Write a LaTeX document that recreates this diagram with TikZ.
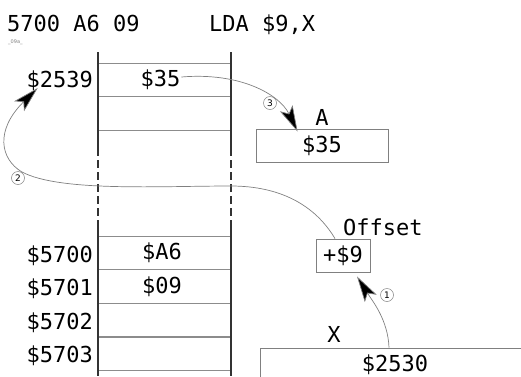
\documentclass[tikz,border=0pt]{standalone}
\usepackage{fontspec}
\newfontfamily\mono{DejaVu Sans Mono}
\newfontfamily\dvs{DejaVu Sans}
\usetikzlibrary{arrows.meta,calc}
\begin{document}
\begin{tikzpicture}[x=1pt,y=-1pt,
  txt/.style={inner sep=0pt,font=\mono\fontsize{22}{26}\selectfont},
  cell/.style={draw=gray!90,line width=0.8pt,minimum width=133pt,minimum height=33.5pt,inner sep=0pt,font=\mono\fontsize{22}{26}\selectfont},
  reg/.style={draw=gray,line width=0.8pt,inner sep=0pt,font=\mono\fontsize{22}{26}\selectfont},
  col/.style={draw=black!80,line width=1.2pt},
  conn/.style={draw=gray,line width=0.7pt,-{Stealth[length=26pt,width=14pt,inset=6pt,fill=black]}},
  circ/.style={circle,draw=gray,line width=0.5pt,inner sep=0pt,minimum size=13pt,font=\dvs\fontsize{9}{9}\selectfont}]
\useasboundingbox (0,0) rectangle (521,376);
\clip (0,0) rectangle (521,376);
% title
\node[txt,anchor=base west] (t1) at (7,31) {5700 A6 09};
\node[txt,anchor=base west] (t2) at (209,31) {LDA \$9,X};
\node[inner sep=0pt,anchor=base west,text=gray,font=\dvs\fontsize{5}{5}\selectfont] (t3) at (8,43) {\_09a\_};
% memory cells
\node[cell] (m1) at (164.5,80) {\hspace*{-8pt}\$35};
\node[cell] (m2) at (164.5,113.5) {};
\node[cell] (m5700) at (164.5,253) {\hspace*{-5pt}\$A6};
\node[cell] (m5701) at (164.5,286.5) {\hspace*{-5pt}\$09};
\node[cell] (m5702) at (164.5,320) {};
\node[cell] (m5703) at (164.5,354) {};
% column lines
\draw[col] (98,52) -- (98,148);
\draw[col,dash pattern=on 8pt off 4pt] (98,148) -- (98,226);
\draw[col] (98,226) -- (98,376);
\draw[col] (231,52) -- (231,148);
\draw[col,dash pattern=on 8pt off 4pt] (231,148) -- (231,226);
\draw[col] (231,226) -- (231,376);
% addresses
\node[txt,anchor=base east] (a2539) at (93,87) {\$2539};
\node[txt,anchor=base east] (a5700) at (93,262) {\$5700};
\node[txt,anchor=base east] (a5701) at (93,295) {\$5701};
\node[txt,anchor=base east] (a5702) at (93,329) {\$5702};
\node[txt,anchor=base east] (a5703) at (93,362) {\$5703};
% registers
\node[reg,minimum width=132pt,minimum height=33pt] (abox) at (322,145.5) {\$35};
\node[txt,anchor=base] (alab) at (322,125) {A};
\node[reg,minimum width=54pt,minimum height=33pt] (offset) at (343,255.5) {+\$9};
\node[txt,anchor=base west] (olab) at (343,235) {Offset};
\node[reg,minimum width=270pt,minimum height=33pt] (xbox) at (395,364.5) {\$2530};
\node[txt,anchor=base] (xlab) at (334,342) {X};
% connectors
\draw[conn] ($(xbox.north)+(-6,0)$) .. controls +(-1,-28) and +(15,24) .. ($(offset.south)+(14,4)$);
\draw[conn] ($(offset.north)+(-8,0)$) .. controls (315,205) and (280,186) .. (231,186)
  .. controls (160,186) and (60,192) .. (22,172)
  .. controls (0,159) and (-5,130) .. ($(a2539.base)+(-22,1)$);
\draw[conn] ($(m1.east)+(-50,-3)$) .. controls +(59,-5) and +(-18,-37) .. ($(abox.north west)+(42,3)$);
% step marks
\node[circ] (n1) at (387,295) {1};
\node[circ] (n2) at (18,178) {2};
\node[circ] (n3) at (270,103) {3};
\end{tikzpicture}
\end{document}
